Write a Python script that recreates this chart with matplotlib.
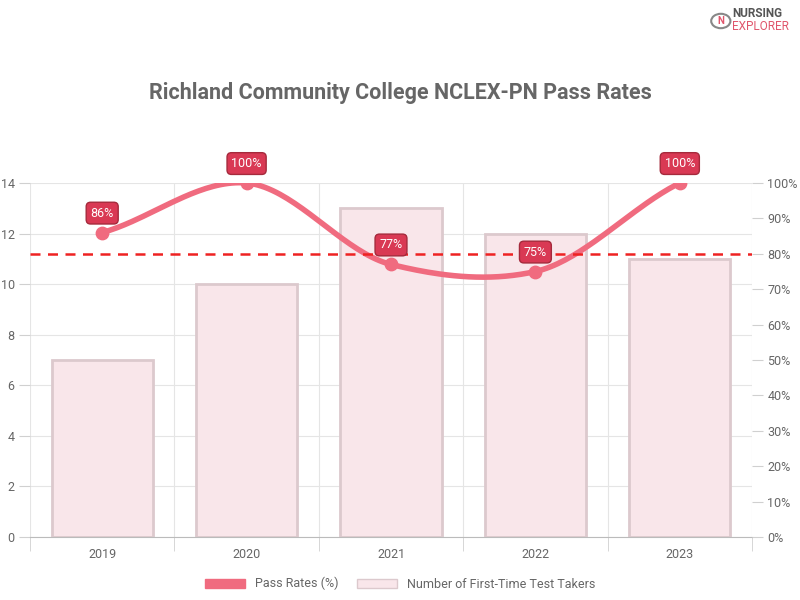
import numpy as np
import matplotlib.pyplot as plt
from matplotlib.patches import Patch

plt.rcParams['font.family'] = ['Roboto', 'DejaVu Sans']

years = ['2019', '2020', '2021', '2022', '2023']
takers = [7, 10, 13, 12, 11]
pass_rates = [86, 100, 77, 75, 100]
benchmark = 80

LINE_COLOR = '#f06b7f'
BAR_FACE = '#f9e6ea'
BAR_EDGE = '#dcc9cd'
LABEL_BG = '#d93954'


def smooth(x, y, n=40, tension=0.4):
    # cardinal spline through the points, like chart.js tension
    x = np.asarray(x, float)
    y = np.asarray(y, float)
    xs, ys = [], []
    for i in range(len(x) - 1):
        p0 = i - 1 if i > 0 else i
        p3 = i + 2 if i + 2 < len(x) else i + 1
        m1 = tension * (y[i + 1] - y[p0]) / max(x[i + 1] - x[p0], 1) * (x[i + 1] - x[i]) * 2
        m2 = tension * (y[p3] - y[i]) / max(x[p3] - x[i], 1) * (x[i + 1] - x[i]) * 2
        t = np.linspace(0, 1, n)
        h00 = 2*t**3 - 3*t**2 + 1
        h10 = t**3 - 2*t**2 + t
        h01 = -2*t**3 + 3*t**2
        h11 = t**3 - t**2
        xs.append(x[i] + t * (x[i + 1] - x[i]))
        ys.append(h00*y[i] + h10*m1 + h01*y[i + 1] + h11*m2)
    return np.concatenate(xs), np.concatenate(ys)


fig = plt.figure(figsize=(8, 6), dpi=100)
ax = fig.add_axes([0.0375, 0.105, 0.9025, 0.59])
ax2 = ax.twinx()

xpos = np.arange(len(years))
ax.bar(xpos, takers, width=0.7, color=BAR_FACE, edgecolor=BAR_EDGE, linewidth=2, zorder=2)
ax.set_ylim(0, 14)
ax.set_xlim(-0.5, len(years) - 0.5)
ax.set_yticks(range(0, 15, 2))
ax.set_xticks(xpos)
ax.set_xticklabels(years)
ax.set_xticks(np.arange(-0.5, len(years)), minor=True)
ax.grid(True, which='minor', axis='x', color='#e5e5e5', linewidth=0.8)
ax.grid(True, which='major', axis='y', color='#e5e5e5', linewidth=0.8)
ax.set_axisbelow(True)
ax.tick_params(axis='x', which='major', length=0, pad=8, colors='#666666', labelsize=9)
ax.tick_params(axis='x', which='minor', length=10, color='#d0d0d0')
ax.tick_params(axis='y', length=8, pad=3, color='#d0d0d0', colors='#666666', labelsize=9)
for side in ['top', 'right', 'left']:
    ax.spines[side].set_visible(False)
ax.spines['bottom'].set_color('#bbbbbb')

sx, sy = smooth(xpos, pass_rates)
ax2.plot(sx, sy, color=LINE_COLOR, linewidth=4, zorder=3, solid_capstyle='round')
ax2.scatter(xpos, pass_rates, s=80, color=LINE_COLOR, zorder=4)
ax2.axhline(benchmark, color='#ee2222', linestyle=(0, (4, 3)), linewidth=1.8, zorder=3)
ax2.set_ylim(0, 100)
ax2.set_yticks(range(0, 101, 10))
ax2.set_yticklabels([f'{v}%' for v in range(0, 101, 10)])
ax2.tick_params(axis='y', length=8, pad=3, color='#d0d0d0', colors='#666666', labelsize=9)
for side in ['top', 'right', 'left', 'bottom']:
    ax2.spines[side].set_visible(False)

for xi, v in zip(xpos, pass_rates):
    ax2.annotate(f'{v}%', (xi, v), xytext=(0, 14), textcoords='offset points',
                 ha='center', va='center', color='white', fontsize=9,
                 bbox=dict(boxstyle='round,pad=0.35', fc=LABEL_BG, ec='#a52a3c', lw=1),
                 zorder=5, annotation_clip=False)

fig.text(0.5, 0.845, 'Richland Community College NCLEX-PN Pass Rates', ha='center',
         va='center', fontsize=15.5, fontweight='bold', color='#666666')

handles = [Patch(facecolor=LINE_COLOR, edgecolor=LINE_COLOR),
           Patch(facecolor=BAR_FACE, edgecolor=BAR_EDGE)]
fig.legend(handles, ['Pass Rates (%)', 'Number of First-Time Test Takers'],
           loc='center', bbox_to_anchor=(0.5, 0.027), ncol=2, frameon=False,
           fontsize=9, labelcolor='#666666', handlelength=3.2, columnspacing=1.5)

fig.text(0.915, 0.977, 'NURSING', ha='left', va='center', fontsize=8.5,
         fontweight='bold', color='#555555')
fig.text(0.915, 0.955, 'EXPLORER', ha='left', va='center', fontsize=8.5, color='#e0566c')
fig.patches.append(plt.Circle((0.901, 0.965), 0.012, transform=fig.transFigure,
                              fc='white', ec='#888888', lw=1.5))
fig.text(0.901, 0.965, 'N', ha='center', va='center', fontsize=7, fontweight='bold',
         color='#e0566c')

fig.savefig('out.png', dpi=100)
